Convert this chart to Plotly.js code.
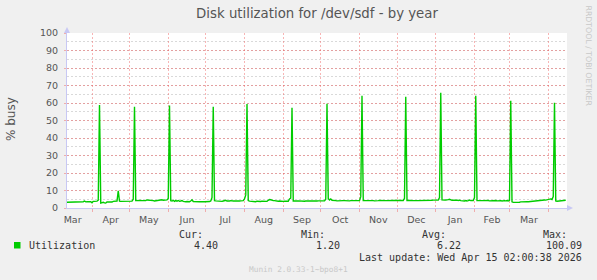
<!DOCTYPE html>
<html>
<head>
<meta charset="utf-8">
<script src="https://cdn.plot.ly/plotly-3.0.1.min.js"></script>
<style>
html,body{margin:0;padding:0;background:#f0f0f0;}
#chart{width:597px;height:280px;}
</style>
</head>
<body>
<div id="chart"></div>
<script>
// ---- data (daily averages, one value per day from startDay) ----
const startDay = '2025-03-12';
const utilization = [
  3.3,3.3,3.2,3.3,3.3,3.3,3.2,3.3,3.3,3.3,
  3.3,3.2,3.3,3.6,4.0,3.5,3.6,3.6,3.5,3.6,
  3.0,3.8,3.8,3.7,3.9,4.5,58.9,2.8,2.9,3.3,
  2.9,2.8,3.4,3.3,3.4,3.4,3.4,3.8,3.8,3.7,
  4.0,9.8,3.9,3.8,3.8,3.8,3.8,3.9,3.8,3.8,
  3.8,3.7,3.9,5.0,57.9,4.2,4.3,4.2,4.1,4.3,
  4.2,4.1,4.2,4.3,4.6,4.6,4.5,4.6,4.6,4.2,
  4.0,4.1,4.0,4.4,4.6,4.5,4.7,4.4,4.5,4.8,
  4.6,5.5,58.5,4.2,4.0,4.4,3.8,4.2,3.9,4.3,
  3.8,4.0,4.3,3.8,3.6,3.6,3.7,3.6,3.6,4.0,
  4.7,3.7,3.6,3.6,3.6,3.5,3.6,3.6,3.8,3.6,
  3.6,3.6,3.5,3.6,3.7,4.0,6.0,57.9,4.2,4.1,
  4.0,4.2,4.1,4.0,3.8,4.0,4.1,4.4,4.0,3.9,
  4.0,4.2,4.0,4.0,4.1,4.0,4.0,4.2,4.0,4.1,
  4.0,4.2,5.2,7.5,59.4,4.2,3.9,3.8,3.9,3.7,
  3.8,3.6,3.9,3.8,3.6,3.7,3.9,3.8,4.0,3.7,
  3.8,4.4,4.8,4.7,4.3,4.2,4.2,4.0,3.8,3.9,
  4.0,3.8,3.9,3.8,3.9,3.8,4.0,3.9,5.2,5.6,
  57.3,4.0,4.1,3.9,4.0,4.1,4.0,3.9,4.0,4.1,
  3.9,4.0,4.1,4.0,4.0,4.1,4.0,3.9,4.1,4.0,
  4.0,4.1,4.0,4.0,4.2,4.1,4.1,5.0,59.6,5.4,
  4.6,5.2,4.4,4.2,4.3,4.2,4.1,4.2,4.3,4.2,
  4.1,4.2,4.2,4.1,4.3,4.2,4.1,4.2,4.2,4.1,
  4.2,4.3,4.2,4.1,4.2,6.5,64.2,4.2,4.3,4.2,
  4.1,4.2,4.2,4.3,4.2,4.2,4.1,4.0,4.2,4.2,
  4.3,4.2,4.2,4.1,4.2,4.2,4.2,4.3,4.3,4.3,
  4.3,4.3,4.3,4.3,4.2,4.3,4.3,4.3,4.2,4.3,
  5.5,63.6,4.3,4.4,4.2,4.3,4.2,4.1,4.2,4.3,
  4.2,4.2,4.2,4.4,4.0,4.3,4.2,4.1,4.3,4.2,
  4.4,4.3,4.4,4.5,4.6,4.6,4.6,4.5,6.0,65.9,
  4.6,4.4,4.5,4.6,4.5,4.8,5.0,4.5,4.4,4.4,
  4.5,4.8,4.5,4.3,4.5,4.2,4.1,4.2,4.0,4.3,
  4.0,4.2,4.5,4.2,4.2,4.3,6.0,64.2,4.2,4.3,
  4.2,4.3,4.2,4.2,4.3,4.2,4.2,4.3,4.1,4.2,
  4.2,4.1,4.2,4.3,4.1,4.2,4.1,4.2,4.0,4.2,
  4.2,4.1,4.3,4.0,4.4,61.3,3.5,3.2,3.2,3.3,
  3.0,3.2,3.3,3.5,3.6,3.6,3.6,3.6,3.6,3.6,
  3.7,3.8,3.9,4.0,4.1,4.2,4.2,4.2,4.4,4.4,
  4.5,4.6,4.6,4.5,4.6,4.8,4.7,5.2,4.8,6.5,
  60.2,4.0,3.9,4.0,4.0,3.9,4.0,4.0,4.2,4.4
];
const xRange = ['2025-03-12', '2026-04-16'];
const yTicks = [0,10,20,30,40,50,60,70,80,90,100];
const titleText = 'Disk utilization for /dev/sdf - by year';
const yTitle = '% busy';
const seriesName = 'Utilization';
const statLabels = ['Cur:', 'Min:', 'Avg:', 'Max:'];
const statValues = ['4.40', '1.20', '6.22', '100.09'];
const lastUpdate = 'Last update: Wed Apr 15 02:00:38 2026';
const muninVersion = 'Munin 2.0.33-1~bpo8+1';
const rrdCredit = 'RRDTOOL / TOBI OETIKER';

// dates: one per day
const days = [];
{
  const t0 = Date.parse(startDay + 'T00:00:00Z');
  for (let i = 0; i < utilization.length; i++) {
    days.push(new Date(t0 + i * 86400000).toISOString().slice(0, 10));
  }
}

const trace = {
  x: days, y: utilization, type: 'scatter', mode: 'lines',
  line: {color: '#00cc00', width: 1.4},
  hoverinfo: 'skip', showlegend: false
};

const txt = '#555555';
const mono = 'DejaVu Sans Mono';
const sans = 'DejaVu Sans';
const ann = [];
function a(text, x, y, xanchor, size, color, family, extra) {
  ann.push(Object.assign({text, x, y, xref: 'paper', yref: 'paper', xanchor, yanchor: 'middle',
    showarrow: false, font: {family, size, color}}, extra || {}));
}
// paper coords: plot area x 67..567 (500px), y 33..208 (175px)
const px = (X) => (X - 67) / 500;
const py = (Y) => (208 - Y) / 175;

a(seriesName, px(27), py(245.5), 'left', 10, '#333', mono);
const labRight = [205, 327, 448, 569];
const valRight = [219.5, 341.5, 462.5, 583.5];
for (let i = 0; i < statLabels.length; i++) {
  a(statLabels[i], px(labRight[i]), py(234), 'right', 10, '#333', mono);
  a(statValues[i], px(valRight[i]), py(245.5), 'right', 10, '#333', mono);
}
a(lastUpdate, px(583.5), py(257.5), 'right', 10, '#333', mono);
a(muninVersion, px(298), py(269.5), 'center', 7.8, '#c8c8c8', mono);
a(rrdCredit, px(588.5), py(56), 'center', 7.8, '#c8c8c8', sans, {textangle: 90});
a(yTitle, px(11), py(119), 'center', 12, txt, sans, {textangle: -90});

const axisCol = '#c8c8f4';
const gridMajor = 'rgba(240,90,90,0.45)';
const gridMinor = 'rgba(170,170,170,0.45)';
const shapes = [
  // legend colour box
  {type: 'rect', xref: 'paper', yref: 'paper', x0: px(14), x1: px(20.5), y0: py(248.5), y1: py(242),
   fillcolor: '#00cc00', line: {width: 0}},
  // y axis arrow
  {type: 'path', xref: 'paper', yref: 'paper',
   path: `M ${px(64)} ${py(33)} L ${px(70)} ${py(33)} L ${px(67)} ${py(27)} Z`,
   fillcolor: axisCol, line: {width: 0}},
  // x axis arrow
  {type: 'path', xref: 'paper', yref: 'paper',
   path: `M ${px(567)} ${py(205)} L ${px(567)} ${py(211)} L ${px(573)} ${py(208)} Z`,
   fillcolor: axisCol, line: {width: 0}}
];

const layout = {
  width: 597, height: 280,
  margin: {l: 67, r: 30, t: 33, b: 72, pad: 0},
  paper_bgcolor: '#f0f0f0', plot_bgcolor: '#ffffff',
  title: {text: titleText, x: 0.5, xref: 'paper', xanchor: 'center', y: 1 - 13.5 / 280, yref: 'container',
          yanchor: 'middle', font: {family: sans, size: 13.3, color: txt}},
  xaxis: {
    type: 'date', range: xRange, dtick: 'M1', tick0: '2025-04-01', tickformat: '%b',
    ticklabelmode: 'period', showgrid: true, gridcolor: gridMajor, griddash: '2px,2px', gridwidth: 1,
    ticks: 'outside', ticklen: 3, tickcolor: gridMajor,
    showline: true, linecolor: axisCol, linewidth: 1, zeroline: false,
    tickfont: {family: sans, size: 9.5, color: txt}, fixedrange: true
  },
  yaxis: {
    range: [0, 100], tickvals: yTicks, ticktext: yTicks.map(String),
    showgrid: true, gridcolor: gridMajor, griddash: '2px,2px', gridwidth: 1,
    minor: {dtick: 5, tick0: 0, showgrid: true, gridcolor: gridMinor, griddash: '2px,2px', gridwidth: 1},
    ticks: 'outside', ticklen: 2, tickcolor: gridMajor,
    showline: true, linecolor: axisCol, linewidth: 1, zeroline: false,
    tickfont: {family: sans, size: 9.5, color: txt}, ticklabelstandoff: 4, fixedrange: true
  },
  annotations: ann,
  shapes: shapes,
  showlegend: false
};

Plotly.newPlot('chart', [trace], layout, {displayModeBar: false, staticPlot: true});
</script>
</body>
</html>
